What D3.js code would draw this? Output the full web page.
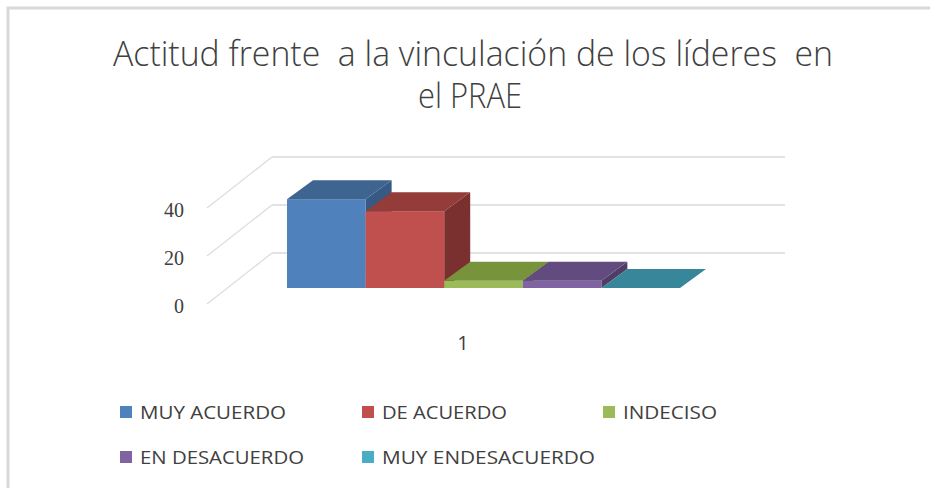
<!DOCTYPE html>
<html>
<head>
<meta charset="utf-8">
<script src="https://cdn.jsdelivr.net/npm/d3@7"></script>
<style>
  body { margin: 0; background: #fff; }
  svg text { white-space: pre; }
</style>
</head>
<body>
<div id="chart"></div>
<script>
// chart data
var series = ['MUY ACUERDO', 'DE ACUERDO', 'INDECISO', 'EN DESACUERDO', 'MUY ENDESACUERDO'];
var values = [37, 32, 3, 3, 0];
var yTicks = [0, 20, 40];
var category = '1';
var titleLines = ['Actitud frente  a la vinculación de los líderes  en', 'el PRAE'];

var frontColors = ['#4f81bd', '#c0504d', '#9bbb59', '#8064a2', '#4bacc6'];
var topColors = ['#3e6490', '#943c3a', '#77933c', '#624b7e', '#37869a'];
var sideColors = ['#365a84', '#7a302e', '#5f7a30', '#4f3d66', '#2c6c7c'];

var width = 930, height = 488;
var dx = 26, dy = -19; // bar depth offset
var mainFont = '"Open Sans", sans-serif';
var textColor = '#404040';

window.onload = function() {
    render();
};

function render() {
    var svg = d3.select('#chart').append('svg')
        .attr('width', width)
        .attr('height', height);

    // chart frame (only top and left edges show)
    svg.append('path')
        .attr('d', 'M8,488 L8,8 L930,8')
        .style('fill', 'none')
        .style('stroke', '#d9d9d9')
        .style('stroke-width', 3);

    // title, squeezed to the width of the original narrow face
    var titleWidths = [720, 104];
    svg.selectAll('text.title')
        .data(titleLines)
        .enter().append('text')
        .attr('class', 'title')
        .attr('x', function(d, i) { return i === 0 ? 113 : 418; })
        .attr('y', function(d, i) { return 66 + i * 42; })
        .attr('textLength', function(d, i) { return titleWidths[i]; })
        .attr('lengthAdjust', 'spacingAndGlyphs')
        .style('font-family', mainFont)
        .style('font-weight', 300)
        .style('font-size', '34px')
        .style('fill', textColor)
        .text(function(d) { return d; });

    // scales
    var yBack = d3.scaleLinear().domain([0, 40]).range([253, 157]);
    var yEdge = d3.scaleLinear().domain([0, 40]).range([304, 208]);
    var yFront = d3.scaleLinear().domain([0, 40]).range([288, 192]);
    var x = d3.scaleBand().domain(series).range([287, 680]).padding(0);

    // back wall and side wall gridlines
    var grid = svg.append('g');
    yTicks.forEach(function(t) {
        grid.append('line')
            .attr('x1', 272).attr('x2', 785)
            .attr('y1', yBack(t)).attr('y2', yBack(t))
            .style('stroke', '#e3e3e3')
            .style('stroke-width', 2);
        grid.append('line')
            .attr('x1', 272).attr('y1', yBack(t))
            .attr('x2', 207).attr('y2', yEdge(t))
            .style('stroke', '#dcdcdc')
            .style('stroke-width', 1.2);
    });

    // tick labels
    svg.selectAll('text.tick')
        .data(yTicks)
        .enter().append('text')
        .attr('class', 'tick')
        .attr('x', 184)
        .attr('y', function(d) { return yEdge(d) + 9; })
        .style('text-anchor', 'end')
        .style('font-family', '"Liberation Serif", serif')
        .style('font-size', '20px')
        .style('fill', textColor)
        .text(function(d) { return d; });

    // bars
    var bars = svg.append('g');
    series.forEach(function(s, i) {
        var x0 = x(s), x1 = x(s) + x.bandwidth();
        var yb = yFront(0), yt = yFront(values[i]);
        if (yb - yt > 0) {
            bars.append('polygon')
                .attr('points', [[x1, yt], [x1 + dx, yt + dy], [x1 + dx, yb + dy], [x1, yb]].join(' '))
                .style('fill', sideColors[i]);
            bars.append('rect')
                .attr('x', x0).attr('y', yt)
                .attr('width', x.bandwidth())
                .attr('height', yb - yt)
                .style('fill', frontColors[i]);
        }
        bars.append('polygon')
            .attr('points', [[x0, yt], [x0 + dx, yt + dy], [x1 + dx, yt + dy], [x1, yt]].join(' '))
            .style('fill', topColors[i]);
    });

    // category label
    svg.append('text')
        .attr('x', 463)
        .attr('y', 350)
        .style('text-anchor', 'middle')
        .style('font-family', mainFont)
        .style('font-size', '20px')
        .style('fill', textColor)
        .text(category);

    // legend
    var legendPos = [[120, 412], [362, 412], [603, 412], [120, 457], [362, 457]];
    var legendWidths = [146, 125, 94, 164, 213];
    var legend = svg.append('g');
    series.forEach(function(s, i) {
        var p = legendPos[i];
        legend.append('rect')
            .attr('x', p[0]).attr('y', p[1] - 6)
            .attr('width', 12).attr('height', 12)
            .style('fill', frontColors[i]);
        legend.append('text')
            .attr('x', p[0] + 20)
            .attr('y', p[1] + 7)
            .attr('textLength', legendWidths[i])
            .attr('lengthAdjust', 'spacingAndGlyphs')
            .style('font-family', mainFont)
            .style('font-size', '19px')
            .style('fill', textColor)
            .text(s);
    });
}
</script>
</body>
</html>
